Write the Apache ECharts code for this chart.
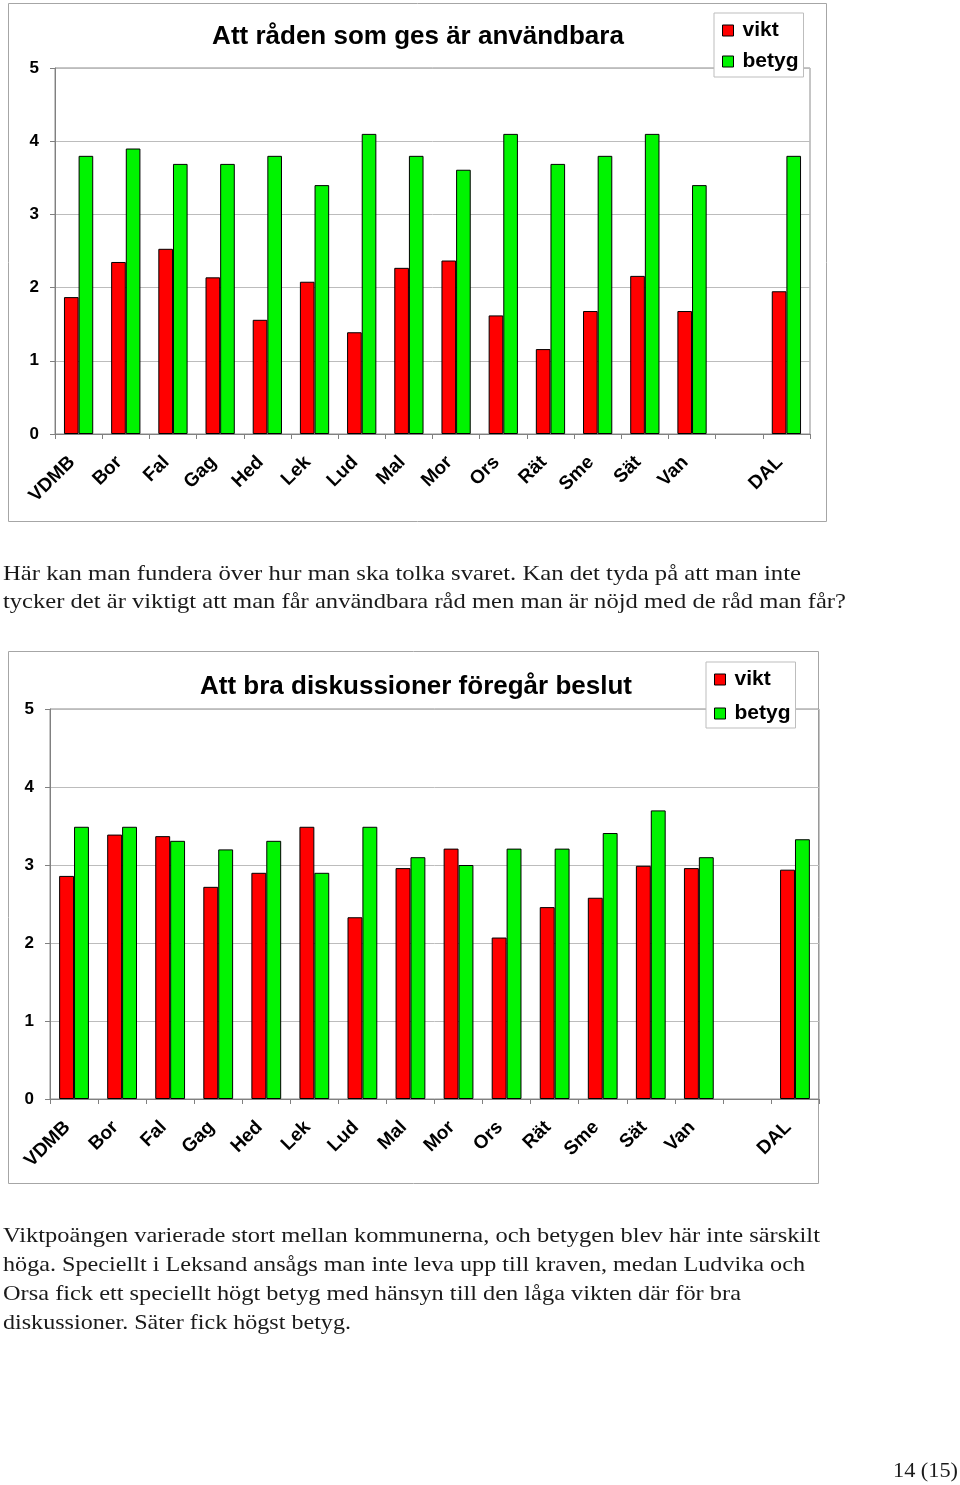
<!DOCTYPE html>
<html>
<head>
<meta charset="utf-8">
<title>Att råden som ges är användbara</title>
<script src="https://cdn.jsdelivr.net/npm/echarts/dist/echarts.min.js"></script>
<style>
  html, body { margin: 0; padding: 0; background: #fff; }
  .page { position: relative; width: 960px; height: 1485px; overflow: hidden; }
  #chart { position: absolute; left: 0; top: 0; width: 960px; height: 1485px; }
  .line {
    position: absolute; left: 3px; white-space: nowrap;
    font-family: "Liberation Serif", serif; font-size: 22px; line-height: 29px;
    color: #1a1a1a; transform-origin: 0 0;
  }
</style>
</head>
<body>
<div class="page">
  <div id="chart"></div>
</div>
<script>
// kommuner, tom plats före DAL
var categories = ['VDMB', 'Bor', 'Fal', 'Gag', 'Hed', 'Lek', 'Lud', 'Mal', 'Mor', 'Ors', 'Rät', 'Sme', 'Sät', 'Van', '', 'DAL'];
var yTicks = [0, 5, 1];

// diagram 1: Att råden som ges är användbara
var radVikt  = [1.87, 2.35, 2.53, 2.14, 1.56, 2.08, 1.39, 2.27, 2.37, 1.62, 1.16, 1.68, 2.16, 1.68, null, 1.95];
var radBetyg = [3.80, 3.90, 3.69, 3.69, 3.80, 3.40, 4.10, 3.80, 3.61, 4.10, 3.69, 3.80, 4.10, 3.40, null, 3.80];

// diagram 2: Att bra diskussioner föregår beslut
var diskVikt  = [2.86, 3.39, 3.37, 2.72, 2.90, 3.49, 2.33, 2.96, 3.21, 2.07, 2.46, 2.58, 2.99, 2.96, null, 2.94];
var diskBetyg = [3.49, 3.49, 3.31, 3.20, 3.31, 2.90, 3.49, 3.10, 3.00, 3.21, 3.21, 3.41, 3.70, 3.10, null, 3.33];

var titles = ['Att råden som ges är användbara', 'Att bra diskussioner föregår beslut'];
var seriesNames = ['vikt', 'betyg'];

// brödtext, en rad per post
var text1 = [
  'Här kan man fundera över hur man ska tolka svaret. Kan det tyda på att man inte',
  'tycker det är viktigt att man får användbara råd men man är nöjd med de råd man får?'
];
var text2 = [
  'Viktpoängen varierade stort mellan kommunerna, och betygen blev här inte särskilt',
  'höga. Speciellt i Leksand ansågs man inte leva upp till kraven, medan Ludvika och',
  'Orsa fick ett speciellt högt betyg med hänsyn till den låga vikten där för bra',
  'diskussioner. Säter fick högst betyg.'
];
var pageNumber = '14 (15)';

var RED = '#ff0000';
var GREEN = '#00f400';
var FONT = '"Liberation Sans", Arial, sans-serif';

function xAxisFor(gridIndex) {
  return {
    type: 'category',
    gridIndex: gridIndex,
    data: categories,
    boundaryGap: true,
    axisLine: { lineStyle: { color: '#808080', width: 1 } },
    axisTick: { show: true, length: 5, lineStyle: { color: '#808080' } },
    axisLabel: {
      interval: 0, rotate: 45, margin: 32, verticalAlign: 'bottom',
      fontFamily: FONT, fontWeight: 'bold', fontSize: 19, color: '#000'
    },
    splitLine: { show: false }
  };
}

function yAxisFor(gridIndex) {
  return {
    type: 'value',
    gridIndex: gridIndex,
    min: yTicks[0], max: yTicks[1], interval: yTicks[2],
    axisLine: { show: true, lineStyle: { color: '#808080', width: 1 } },
    axisTick: { show: true, length: 5, lineStyle: { color: '#808080' } },
    axisLabel: {
      margin: 16, fontFamily: FONT, fontWeight: 'bold', fontSize: 17, color: '#000'
    },
    splitLine: { lineStyle: { color: '#bcbcbc', width: 1 } }
  };
}

function barSeries(name, data, color, idx) {
  return {
    name: name,
    type: 'bar',
    xAxisIndex: idx,
    yAxisIndex: idx,
    data: data,
    barGap: '0%',
    barCategoryGap: '38%',
    itemStyle: { color: color, borderColor: '#000', borderWidth: 1 }
  };
}

function legendFor(left, top, gap, padding) {
  return {
    left: left, top: top, orient: 'vertical',
    data: seriesNames,
    itemWidth: 11, itemHeight: 11, itemGap: gap,
    icon: 'rect',
    padding: padding,
    backgroundColor: '#fff',
    borderColor: '#bdbdbd', borderWidth: 1,
    itemStyle: { borderColor: '#000', borderWidth: 1 },
    textStyle: {
      fontFamily: FONT, fontWeight: 'bold', fontSize: 21, color: '#000',
      padding: [0, 0, 0, 4]
    },
    selectedMode: false,
    z: 10
  };
}

var chart = echarts.init(document.getElementById('chart'), null, { renderer: 'canvas' });
chart.setOption({
  animation: false,
  backgroundColor: '#fff',
  title: [
    {
      text: titles[0], left: 418, top: 24, textAlign: 'center', padding: 0,
      textStyle: { fontFamily: FONT, fontWeight: 'bold', fontSize: 26, lineHeight: 26, color: '#000' }
    },
    {
      text: titles[1], left: 416, top: 674, textAlign: 'center', padding: 0,
      textStyle: { fontFamily: FONT, fontWeight: 'bold', fontSize: 26, lineHeight: 26, color: '#000' }
    }
  ],
  legend: [
    legendFor(714, 13, 10, [7, 5, 5, 8]),
    legendFor(706, 662, 13, [7, 5, 4, 8])
  ],
  grid: [
    { left: 55, top: 68, width: 755, height: 366, show: true, borderColor: '#8c8c8c', borderWidth: 1 },
    { left: 50, top: 709, width: 769, height: 390, show: true, borderColor: '#8c8c8c', borderWidth: 1 }
  ],
  xAxis: [xAxisFor(0), xAxisFor(1)],
  yAxis: [yAxisFor(0), yAxisFor(1)],
  series: [
    barSeries(seriesNames[0], radVikt, RED, 0),
    barSeries(seriesNames[1], radBetyg, GREEN, 0),
    barSeries(seriesNames[0], diskVikt, RED, 1),
    barSeries(seriesNames[1], diskBetyg, GREEN, 1)
  ],
  graphic: [
    // ramar runt diagrammen
    { type: 'rect', shape: { x: 8.5, y: 3.5, width: 818, height: 518 },
      style: { fill: null, stroke: '#a6a6a6', lineWidth: 1 }, z: -1 },
    { type: 'rect', shape: { x: 8.5, y: 651.5, width: 810, height: 532 },
      style: { fill: null, stroke: '#a6a6a6', lineWidth: 1 }, z: -1 }
  ]
});

// brödtext som html, varje rad sträcks till samma bredd som i originalet
var page = document.querySelector('.page');
function addLine(str, baseline, right, left) {
  var d = document.createElement('div');
  d.className = 'line';
  d.textContent = str;
  d.style.top = (baseline - 22) + 'px';
  if (left) d.style.left = left + 'px';
  page.appendChild(d);
  var w = d.getBoundingClientRect().width;
  var target = right - (left || 3);
  d.style.transform = 'scaleX(' + (target / w).toFixed(4) + ')';
}
addLine(text1[0], 580, 801);
addLine(text1[1], 608, 846);
var rights2 = [820, 805, 741, 351];
text2.forEach(function (t, i) { addLine(t, 1242 + i * 29, rights2[i]); });
addLine(pageNumber, 1477, 958, 893);
</script>
</body>
</html>
